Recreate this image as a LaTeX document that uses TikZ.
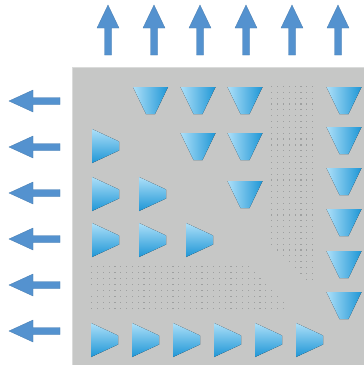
\documentclass[tikz,border=0pt]{standalone}
\usepackage{tikz}
\definecolor{arrowblue}{RGB}{84,146,207}
\definecolor{panelgray}{RGB}{198,199,198}
\definecolor{panelrim}{RGB}{218,219,218}
\definecolor{dotgray}{RGB}{158,160,160}
\definecolor{finlight}{RGB}{172,223,248}
\definecolor{findark}{RGB}{30,150,214}

\begin{document}
\begin{tikzpicture}[x=1pt,y=-1pt,
  flowarrow/.style={fill=arrowblue,draw=arrowblue!85!black,line width=0.3pt},
  downfin/.style={left color=finlight,right color=findark,draw=none},
  rightfin/.style={top color=finlight,bottom color=findark,draw=none},
  dot/.style={fill=dotgray}]
\useasboundingbox (0,0) rectangle (364,365);
\fill[white] (0,0) rectangle (364,365);
\draw[fill=panelgray,draw=panelrim,line width=1pt] (72,67) rectangle (366,367);

% outgoing arrows, top and left
\foreach \cx in {108,154,200,246,292,338}
  \draw[flowarrow] (\cx-3.5,55) -- (\cx-3.5,28) -- (\cx-11,28) -- (\cx,5) -- (\cx+11,28) -- (\cx+3.5,28) -- (\cx+3.5,55) -- cycle;
\foreach \cy in {101,147,193,239,285,331}
  \draw[flowarrow] (60,\cy-3.5) -- (33,\cy-3.5) -- (33,\cy-11) -- (9,\cy) -- (33,\cy+11) -- (33,\cy+3.5) -- (60,\cy+3.5) -- cycle;

% dotted strips
\foreach \r in {0,...,33}{
  \pgfmathtruncatemacro{\first}{max(0,\r-27)}
  \foreach \c in {\first,...,7}
    \fill[dot] ({271.7+5.85*\c-0.6},{86.5+5.84*\r-0.6}) rectangle ++(1.2,1.2);
}
\foreach \k in {0,...,7}{
  \pgfmathtruncatemacro{\last}{min(27+\k,33)}
  \pgfmathtruncatemacro{\first}{\k==4 ? 1 : 0}
  \foreach \c in {\first,...,\last}
    \fill[dot] ({91.7+5.8*\c-0.6},{266.7+5.95*\k-0.6}) rectangle ++(1.2,1.2);
}

% downward fins
\foreach \cx/\ty in {150.5/87,198/87,245/87,198/133,245/133,245/181,
                     344/87,344/127,344/168,344/209,344/251,344/292}
  \fill[downfin] (\cx-17.5,\ty) -- (\cx+17.5,\ty) -- (\cx+4.5,\ty+27) -- (\cx-4.5,\ty+27) -- cycle;

% rightward fins
\foreach \lx/\cy in {92/146,92/194,139/194,92/240,139/240,186/240,
                     91/340,132/340,173/340,214/340,255/340,296/340}
  \fill[rightfin] (\lx,\cy-17) -- (\lx+27,\cy-4.5) -- (\lx+27,\cy+4.5) -- (\lx,\cy+17) -- cycle;

\end{tikzpicture}
\end{document}
